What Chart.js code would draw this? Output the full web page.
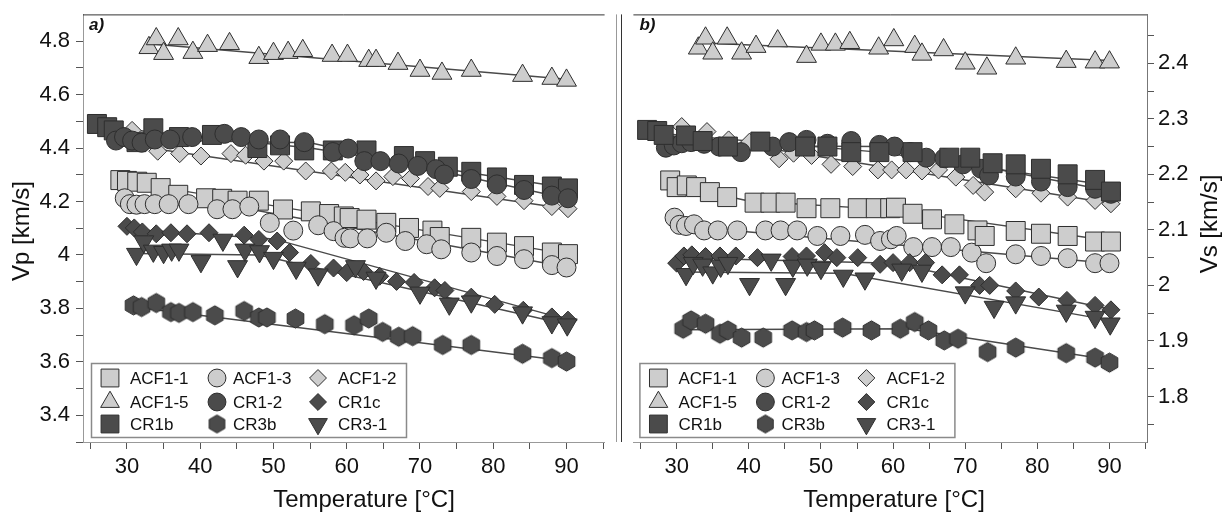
<!DOCTYPE html>
<html>
<head>
<meta charset="utf-8">
<script src="https://cdn.jsdelivr.net/npm/chart.js@4.4.1/dist/chart.umd.min.js"></script>
<style>
  html, body { margin: 0; padding: 0; background: #fff; }
  #wrap { position: relative; width: 1228px; height: 513px; }
  #chartA { position: absolute; left: 0; top: 0; }
  #chartB { position: absolute; left: 619px; top: 0; }
</style>
</head>
<body>
<div id="wrap">
  <canvas id="chartA" width="619" height="513"></canvas>
  <canvas id="chartB" width="609" height="513"></canvas>
</div>
<script>
// temperatures [°C] of each run, shared by the Vp (panel a) and Vs (panel b) values
const acf11Temp = [29.1, 30.0, 31.4, 32.7, 34.6, 37.0, 40.8, 43.0, 45.1, 48.0, 51.3, 55.1, 57.6, 59.6, 60.4, 62.7, 65.4, 68.5, 71.7, 72.7, 77.0, 80.5, 84.2, 88.0, 90.2];
const acf11Vp = [4.280, 4.277, 4.274, 4.270, 4.250, 4.225, 4.212, 4.210, 4.203, 4.203, 4.170, 4.163, 4.153, 4.144, 4.138, 4.132, 4.120, 4.101, 4.091, 4.067, 4.064, 4.046, 4.033, 4.009, 4.003];
const acf11Vs = [2.189, 2.177, 2.180, 2.177, 2.168, 2.159, 2.149, 2.149, 2.149, 2.139, 2.139, 2.139, 2.139, 2.139, 2.140, 2.129, 2.119, 2.110, 2.099, 2.089, 2.098, 2.093, 2.089, 2.079, 2.079];

const acf13Temp = [29.7, 30.4, 31.3, 32.4, 33.8, 35.7, 38.4, 42.3, 44.4, 46.7, 49.5, 52.7, 56.1, 58.2, 59.7, 60.5, 62.8, 65.4, 68.0, 70.9, 72.9, 77.0, 80.5, 84.2, 88.0, 90.0];
const acf13Vp = [4.212, 4.190, 4.188, 4.190, 4.190, 4.190, 4.190, 4.171, 4.171, 4.181, 4.120, 4.091, 4.111, 4.089, 4.064, 4.062, 4.062, 4.083, 4.052, 4.040, 4.021, 4.009, 3.996, 3.984, 3.962, 3.953];
const acf13Vs = [2.122, 2.109, 2.107, 2.110, 2.099, 2.099, 2.099, 2.099, 2.099, 2.099, 2.089, 2.089, 2.091, 2.080, 2.083, 2.089, 2.069, 2.069, 2.069, 2.059, 2.040, 2.056, 2.053, 2.049, 2.040, 2.040];

const acf12Temp = [30.7, 34.2, 37.2, 40.1, 44.2, 46.2, 48.7, 51.4, 54.4, 57.9, 59.8, 61.8, 64.0, 66.3, 68.7, 71.1, 72.7, 77.0, 80.5, 84.2, 88.0, 90.2];
const acf12Vp = [4.466, 4.388, 4.379, 4.370, 4.379, 4.373, 4.351, 4.351, 4.314, 4.314, 4.309, 4.299, 4.277, 4.293, 4.286, 4.256, 4.249, 4.237, 4.219, 4.203, 4.181, 4.173];
const acf12Vs = [2.286, 2.277, 2.262, 2.258, 2.228, 2.238, 2.234, 2.218, 2.214, 2.208, 2.208, 2.208, 2.206, 2.208, 2.195, 2.180, 2.168, 2.174, 2.166, 2.159, 2.153, 2.147];

const acf15Temp = [33.0, 34.0, 35.0, 37.0, 39.0, 41.0, 44.0, 48.0, 50.0, 52.0, 54.0, 58.0, 60.1, 63.0, 64.0, 67.0, 70.0, 73.0, 77.0, 84.0, 88.0, 90.0];
const acf15Vp = [4.775, 4.808, 4.753, 4.808, 4.757, 4.783, 4.790, 4.738, 4.753, 4.757, 4.764, 4.746, 4.746, 4.727, 4.727, 4.716, 4.690, 4.679, 4.690, 4.671, 4.660, 4.653];
const acf15Vs = [2.427, 2.445, 2.418, 2.445, 2.418, 2.430, 2.440, 2.412, 2.434, 2.434, 2.437, 2.427, 2.442, 2.430, 2.416, 2.424, 2.400, 2.391, 2.409, 2.403, 2.402, 2.402];

const cr12Temp = [28.5, 29.6, 30.7, 32.0, 33.8, 35.9, 38.9, 43.3, 45.6, 48.0, 50.9, 54.2, 58.1, 60.2, 62.4, 64.6, 67.1, 69.7, 72.2, 73.3, 77.0, 80.5, 84.2, 88.0, 90.2];
const cr12Vp = [4.428, 4.441, 4.428, 4.420, 4.432, 4.432, 4.441, 4.453, 4.441, 4.432, 4.432, 4.422, 4.385, 4.398, 4.351, 4.351, 4.342, 4.333, 4.321, 4.301, 4.284, 4.264, 4.243, 4.222, 4.212];
const cr12Vs = [2.248, 2.252, 2.256, 2.258, 2.255, 2.250, 2.240, 2.250, 2.258, 2.262, 2.255, 2.260, 2.253, 2.250, 2.240, 2.230, 2.229, 2.218, 2.210, 2.198, 2.196, 2.187, 2.177, 2.174, 2.165];

const cr1cTemp = [30.0, 31.0, 32.1, 34.0, 36.0, 38.2, 41.2, 46.0, 48.0, 50.5, 52.2, 55.1, 58.2, 60.0, 62.3, 64.5, 66.8, 69.2, 72.0, 73.4, 77.0, 80.2, 84.1, 88.0, 90.2];
const cr1cVp = [4.107, 4.101, 4.086, 4.079, 4.083, 4.079, 4.083, 4.074, 4.058, 4.052, 4.009, 3.968, 3.951, 3.934, 3.938, 3.920, 3.901, 3.897, 3.877, 3.867, 3.842, 3.815, 3.793, 3.768, 3.756];
const cr1cVs = [2.040, 2.053, 2.055, 2.052, 2.053, 2.053, 2.050, 2.052, 2.053, 2.059, 2.050, 2.050, 2.038, 2.041, 2.041, 2.041, 2.019, 2.019, 2.000, 2.000, 1.990, 1.979, 1.973, 1.964, 1.956];

const cr1bTemp = [25.9, 27.3, 28.2, 31.3, 33.6, 37.1, 41.6, 47.8, 50.9, 54.2, 58.1, 62.7, 67.8, 70.7, 73.8, 77.0, 80.5, 84.2, 88.0, 90.2];
const cr1bVp = [4.490, 4.478, 4.466, 4.422, 4.474, 4.441, 4.449, 4.400, 4.410, 4.391, 4.391, 4.391, 4.370, 4.351, 4.330, 4.311, 4.290, 4.262, 4.256, 4.249];
const cr1bVs = [2.280, 2.278, 2.271, 2.270, 2.260, 2.250, 2.259, 2.250, 2.250, 2.240, 2.240, 2.240, 2.230, 2.230, 2.220, 2.218, 2.210, 2.200, 2.190, 2.169];

const cr3bTemp = [30.9, 32.0, 34.0, 36.0, 37.1, 39.0, 42.0, 46.0, 48.0, 49.1, 53.0, 57.0, 61.0, 63.0, 64.9, 67.1, 69.0, 73.1, 77.0, 84.0, 88.0, 90.0];
const cr3bVp = [3.811, 3.805, 3.820, 3.786, 3.783, 3.786, 3.774, 3.790, 3.766, 3.766, 3.762, 3.741, 3.737, 3.762, 3.712, 3.694, 3.696, 3.663, 3.663, 3.630, 3.614, 3.601];
const cr3bVs = [1.922, 1.937, 1.931, 1.913, 1.919, 1.906, 1.906, 1.919, 1.916, 1.919, 1.924, 1.919, 1.922, 1.934, 1.919, 1.901, 1.904, 1.880, 1.888, 1.878, 1.870, 1.861];

const cr31Temp = [31.3, 32.3, 33.6, 35.0, 36.1, 37.1, 40.1, 43.1, 45.1, 46.1, 48.1, 50.0, 53.1, 56.1, 61.2, 64.0, 70.0, 74.0, 77.0, 84.0, 88.0, 90.1];
const cr31Vp = [4.003, 4.050, 4.015, 4.010, 4.019, 4.019, 3.976, 4.056, 3.957, 4.019, 4.013, 3.988, 3.951, 3.926, 3.957, 3.914, 3.858, 3.817, 3.825, 3.784, 3.747, 3.739];
const cr31Vs = [2.020, 2.040, 2.037, 2.023, 2.035, 2.040, 2.002, 2.046, 2.002, 2.035, 2.037, 2.031, 2.017, 2.012, 2.028, 2.026, 1.987, 1.961, 1.969, 1.954, 1.943, 1.931];

// fitted trend lines, [temperature, velocity] vertices
const acf11FitVp = [[29.1, 4.278], [90.2, 4.003]];
const acf11FitVs = [[29.2, 2.182], [40, 2.152], [60, 2.136], [90.3, 2.080]];
const acf13FitVp = [[29.7, 4.200], [47, 4.170], [90.0, 3.955]];
const acf13FitVs = [[29.7, 2.108], [90.1, 2.040]];
const acf12FitVp = [[30.5, 4.410], [90.2, 4.172]];
const acf12FitVs = [[30.4, 2.272], [90.1, 2.148]];
const acf15FitVp = [[32.9, 4.790], [90.1, 4.657]];
const acf15FitVs = [[33.0, 2.437], [90.1, 2.405]];
const cr12FitVp = [[28.4, 4.432], [55, 4.420], [90.2, 4.210]];
const cr12FitVs = [[28.6, 2.252], [58, 2.250], [90.1, 2.170]];
const cr1cFitVp = [[30.0, 4.097], [50, 4.060], [90.2, 3.757]];
const cr1cFitVs = [[29.9, 2.050], [60, 2.040], [90.1, 1.957]];
const cr1bFitVp = [[25.5, 4.482], [55, 4.400], [90.2, 4.250]];
const cr1bFitVs = [[25.9, 2.276], [58, 2.240], [90.1, 2.180]];
const cr3bFitVp = [[30.9, 3.805], [90.0, 3.603]];
const cr3bFitVs = [[30.9, 1.920], [62, 1.922], [90.0, 1.866]];
const cr31FitVp = [[31.3, 4.005], [48, 4.000], [90.1, 3.740]];
const cr31FitVs = [[30.9, 2.024], [53, 2.022], [90.1, 1.937]];

// axis ticks
const xMajorTicks = [30, 40, 50, 60, 70, 80, 90];
const xMinorTicks = [25, 35, 45, 55, 65, 75, 85, 95];
const vpMajorTicks = [3.4, 3.6, 3.8, 4, 4.2, 4.4, 4.6, 4.8];
const vpMinorTicks = [3.3, 3.5, 3.7, 3.9, 4.1, 4.3, 4.5, 4.7];
const vsMajorTicks = [1.8, 1.9, 2, 2.1, 2.2, 2.3, 2.4];
const vsMinorTicks = [1.75, 1.85, 1.95, 2.05, 2.15, 2.25, 2.35, 2.45];

const FONT = '"Liberation Sans", Arial, Helvetica, sans-serif';
const LIGHT = '#cdcdcd';
const DARK = '#4b4b4b';
const EDGE = '#2e2e2e';

function hexImage(fill, R) {
  const size = Math.ceil(R * 2 + 3);
  const c = document.createElement('canvas');
  c.width = size; c.height = size;
  const g = c.getContext('2d');
  g.beginPath();
  for (let i = 0; i < 6; i++) {
    const a = Math.PI / 2 + i * Math.PI / 3;
    g.lineTo(size / 2 + R * Math.cos(a), size / 2 - R * Math.sin(a));
  }
  g.closePath();
  g.fillStyle = fill; g.fill();
  g.strokeStyle = EDGE; g.lineWidth = 1; g.stroke();
  return c;
}
const hexImg = hexImage(DARK, 9.6);
const hexLegendImg = hexImage(DARK, 9.0);

const markerStyles = {
  'ACF1-1': { shape: 'rect', radius: 13.4, fill: LIGHT },
  'ACF1-3': { shape: 'circle', radius: 9.5, fill: LIGHT },
  'ACF1-2': { shape: 'rectRot', radius: 9, fill: LIGHT },
  'ACF1-5': { shape: 'triangle', radius: 11.5, fill: LIGHT },
  'CR1-2': { shape: 'circle', radius: 9.5, fill: DARK },
  'CR1c': { shape: 'rectRot', radius: 9, fill: DARK },
  'CR1b': { shape: 'rect', radius: 13.4, fill: DARK },
  'CR3b': { shape: 'hex', radius: 9.6, fill: DARK },
  'CR3-1': { shape: 'triangle', rotation: 180, radius: 11.5, fill: DARK }
};

// legend order (row by row, three columns)
const sampleTable = [
  { name: 'ACF1-1', temp: acf11Temp, vp: acf11Vp, vs: acf11Vs, fitVp: acf11FitVp, fitVs: acf11FitVs },
  { name: 'ACF1-3', temp: acf13Temp, vp: acf13Vp, vs: acf13Vs, fitVp: acf13FitVp, fitVs: acf13FitVs },
  { name: 'ACF1-2', temp: acf12Temp, vp: acf12Vp, vs: acf12Vs, fitVp: acf12FitVp, fitVs: acf12FitVs },
  { name: 'ACF1-5', temp: acf15Temp, vp: acf15Vp, vs: acf15Vs, fitVp: acf15FitVp, fitVs: acf15FitVs },
  { name: 'CR1-2', temp: cr12Temp, vp: cr12Vp, vs: cr12Vs, fitVp: cr12FitVp, fitVs: cr12FitVs },
  { name: 'CR1c', temp: cr1cTemp, vp: cr1cVp, vs: cr1cVs, fitVp: cr1cFitVp, fitVs: cr1cFitVs },
  { name: 'CR1b', temp: cr1bTemp, vp: cr1bVp, vs: cr1bVs, fitVp: cr1bFitVp, fitVs: cr1bFitVs },
  { name: 'CR3b', temp: cr3bTemp, vp: cr3bVp, vs: cr3bVs, fitVp: cr3bFitVp, fitVs: cr3bFitVs },
  { name: 'CR3-1', temp: cr31Temp, vp: cr31Vp, vs: cr31Vs, fitVp: cr31FitVp, fitVs: cr31FitVs }
];

// bottom -> top stacking of the markers in each panel
const stackA = ['ACF1-2', 'CR1b', 'CR1-2', 'ACF1-1', 'ACF1-3', 'ACF1-5', 'CR1c', 'CR3-1', 'CR3b'];
const stackB = ['ACF1-2', 'CR1-2', 'CR1b', 'ACF1-3', 'ACF1-1', 'ACF1-5', 'CR1c', 'CR3-1', 'CR3b'];

function makeDatasets(key, fitKey, stack) {
  const sets = [];
  sampleTable.forEach(s => {
    sets.push({
      label: s.name + ' fit',
      data: s[fitKey].map(p => ({ x: p[0], y: p[1] })),
      showLine: true,
      pointRadius: 0,
      borderColor: '#4a4a4a',
      borderWidth: 1.5,
      fill: false,
      order: 200
    });
  });
  sampleTable.forEach(s => {
    const st = markerStyles[s.name];
    sets.push({
      label: s.name,
      data: s.temp.map((t, i) => ({ x: t, y: s[key][i] })),
      showLine: false,
      pointStyle: st.shape === 'hex' ? hexImg : st.shape,
      pointRotation: st.rotation || 0,
      pointRadius: st.radius,
      pointHoverRadius: st.radius,
      pointBackgroundColor: st.fill,
      pointBorderColor: EDGE,
      pointBorderWidth: 1,
      backgroundColor: st.fill,
      borderColor: EDGE,
      order: 100 - stack.indexOf(s.name)
    });
  });
  return sets;
}

function isIn(v, list) {
  return list.some(m => Math.abs(m - v) < 1e-6);
}

function legendMarker(ctx, st, x, y) {
  ctx.fillStyle = st.fill;
  ctx.strokeStyle = EDGE;
  ctx.lineWidth = 1;
  if (st.shape === 'hex') {
    ctx.drawImage(hexLegendImg, x - hexLegendImg.width / 2, y - hexLegendImg.height / 2);
    return;
  }
  const r = st.radius * 0.94;
  ctx.beginPath();
  if (st.shape === 'rect') {
    const s = r * Math.SQRT1_2;
    ctx.rect(x - s, y - s, 2 * s, 2 * s);
  } else if (st.shape === 'circle') {
    ctx.arc(x, y, r, 0, Math.PI * 2);
  } else if (st.shape === 'rectRot') {
    ctx.moveTo(x - r, y); ctx.lineTo(x, y - r); ctx.lineTo(x + r, y); ctx.lineTo(x, y + r);
  } else if (st.shape === 'triangle') {
    let rad = (st.rotation || 0) * Math.PI / 180;
    for (let i = 0; i < 3; i++) {
      ctx.lineTo(x + Math.sin(rad) * r, y - Math.cos(rad) * r);
      rad += Math.PI * 2 / 3;
    }
  }
  ctx.closePath();
  ctx.fill();
  ctx.stroke();
}

const panelDeco = {
  id: 'panelDeco',
  afterDraw(chart, args, o) {
    const ctx = chart.ctx;
    const a = chart.chartArea;
    ctx.save();

    // frame
    ctx.lineWidth = 1;
    ctx.strokeStyle = '#333';
    ctx.beginPath();
    ctx.moveTo(a.left, a.top + 0.5); ctx.lineTo(a.right, a.top + 0.5);
    ctx.stroke();
    ctx.strokeStyle = o.sideColor;
    ctx.beginPath();
    ctx.moveTo(o.sideX, a.top); ctx.lineTo(o.sideX, a.bottom);
    ctx.stroke();

    // panel letter
    ctx.fillStyle = '#111';
    ctx.font = 'italic bold 17px ' + FONT;
    ctx.textAlign = 'left';
    ctx.textBaseline = 'alphabetic';
    ctx.fillText(o.letter, a.left + 6, 30);

    // axis titles
    ctx.font = '24px ' + FONT;
    ctx.textAlign = 'center';
    ctx.fillText(o.xTitle, o.xTitleX, 507);
    ctx.save();
    ctx.translate(o.yTitleX, o.yTitleY);
    ctx.rotate(-Math.PI / 2);
    ctx.fillText(o.yTitle, 0, 0);
    ctx.restore();

    // legend
    const lx = a.left + o.legendDx, ly = 363, lw = 315, lh = 74;
    ctx.fillStyle = '#fff';
    ctx.fillRect(lx, ly, lw, lh);
    ctx.strokeStyle = '#8a8a8a';
    ctx.lineWidth = 1.5;
    ctx.strokeRect(lx + 0.5, ly + 0.5, lw, lh);
    const markerCols = [19, 126, 227];
    const textCols = [39, 142, 247];
    const rows = [15, 39, 61];
    ctx.font = '17px ' + FONT;
    ctx.textAlign = 'left';
    ctx.textBaseline = 'middle';
    sampleTable.forEach((s, i) => {
      const col = i % 3, row = Math.floor(i / 3);
      legendMarker(ctx, markerStyles[s.name], lx + markerCols[col], ly + rows[row]);
      ctx.fillStyle = '#111';
      ctx.fillText(s.name, lx + textCols[col], ly + rows[row] + 1);
    });
    ctx.restore();
  }
};

function xScale() {
  return {
    type: 'linear',
    position: 'bottom',
    min: 24,
    max: 95.2,
    afterBuildTicks: sc => { sc.ticks = xMajorTicks.concat(xMinorTicks).sort((p, q) => p - q).map(v => ({ value: v })); },
    afterFit: sc => { sc.height = 71; sc.paddingLeft = 0; sc.paddingRight = 0; },
    ticks: {
      autoSkip: false, maxRotation: 0, minRotation: 0, padding: 5,
      color: '#111', font: { family: FONT, size: 22 },
      callback: v => isIn(v, xMajorTicks) ? String(v) : ''
    },
    grid: { drawOnChartArea: false, drawTicks: true, tickLength: 7, color: '#555', tickColor: '#555' },
    border: { display: true, color: '#999', width: 1 },
    title: { display: false }
  };
}

function yScale(min, max, major, minor, position, width, pad) {
  return {
    type: 'linear',
    position: position,
    min: min,
    max: max,
    afterBuildTicks: sc => { sc.ticks = major.concat(minor).sort((p, q) => p - q).map(v => ({ value: v })); },
    afterFit: sc => { sc.width = width; sc.paddingTop = 0; sc.paddingBottom = 0; },
    ticks: {
      autoSkip: false, padding: pad,
      color: '#111', font: { family: FONT, size: 22 },
      callback: v => isIn(v, major) ? String(v) : ''
    },
    grid: { drawOnChartArea: false, drawTicks: true, tickLength: 7, color: '#555', tickColor: '#555' },
    border: { display: true, color: position === 'left' ? '#999' : '#777', width: 1 },
    title: { display: false }
  };
}

new Chart(document.getElementById('chartA'), {
  type: 'scatter',
  data: { datasets: makeDatasets('vp', 'fitVp', stackA) },
  options: {
    responsive: false,
    animation: false,
    devicePixelRatio: 1,
    events: [],
    layout: { padding: { left: 0, right: 2, top: 12, bottom: 0 } },
    scales: {
      x: xScale(),
      y: yScale(3.3, 4.9, vpMajorTicks, vpMinorTicks, 'left', 83, 6)
    },
    plugins: {
      legend: { display: false },
      tooltip: { enabled: false },
      panelDeco: {
        letter: 'a)', xTitle: 'Temperature [°C]', xTitleX: 364,
        yTitle: 'Vp [km/s]', yTitleX: 29, yTitleY: 231,
        sideX: 616.5, sideColor: '#999', legendDx: 8
      }
    }
  },
  plugins: [panelDeco]
});

new Chart(document.getElementById('chartB'), {
  type: 'scatter',
  data: { datasets: makeDatasets('vs', 'fitVs', stackB) },
  options: {
    responsive: false,
    animation: false,
    devicePixelRatio: 1,
    events: [],
    layout: { padding: { left: 2, right: 0, top: 12, bottom: 0 } },
    scales: {
      x: xScale(),
      y: yScale(1.718, 2.488, vsMajorTicks, vsMinorTicks, 'right', 81, 4)
    },
    plugins: {
      legend: { display: false },
      tooltip: { enabled: false },
      panelDeco: {
        letter: 'b)', xTitle: 'Temperature [°C]', xTitleX: 275,
        yTitle: 'Vs [km/s]', yTitleX: 598, yTitleY: 224,
        sideX: 2.5, sideColor: '#333', legendDx: 6
      }
    }
  },
  plugins: [panelDeco]
});
</script>
</body>
</html>
